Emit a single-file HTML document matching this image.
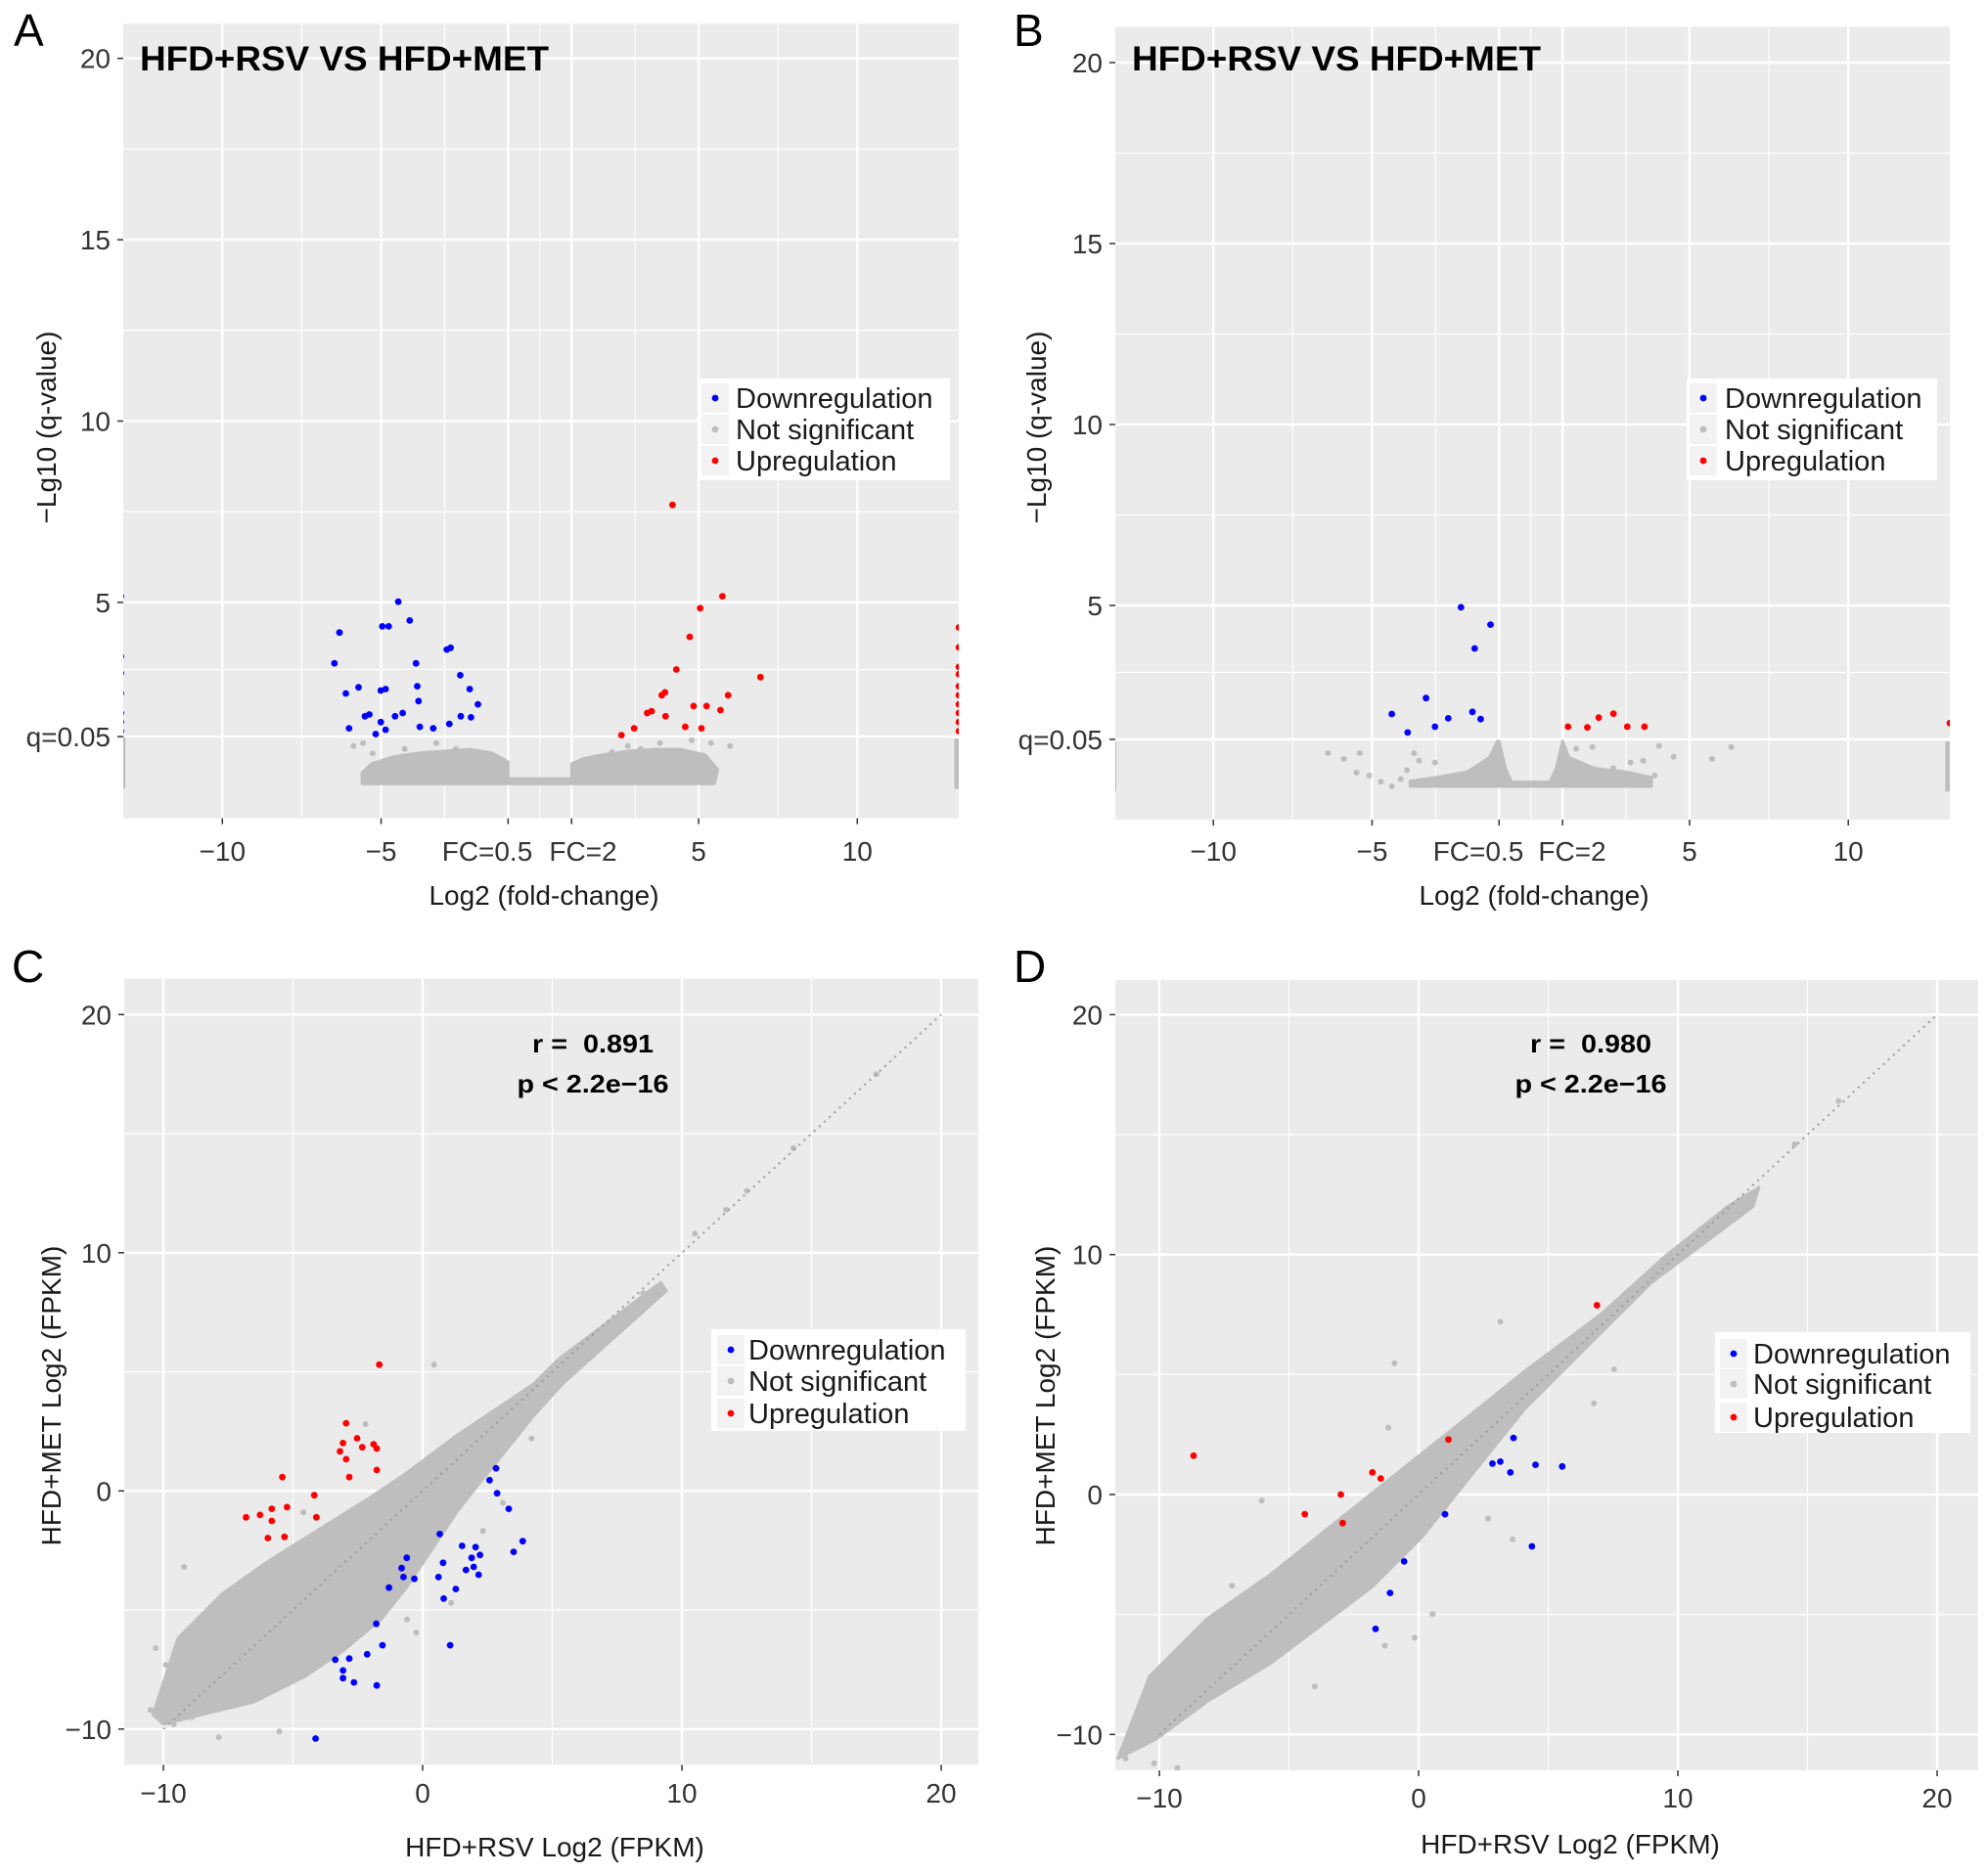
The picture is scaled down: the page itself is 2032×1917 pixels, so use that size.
<!DOCTYPE html>
<html><head><meta charset="utf-8">
<style>
html,body{margin:0;padding:0;background:#fff;}
svg{display:block;font-family:"Liberation Sans",Arial,sans-serif;}
</style></head>
<body>
<svg id="fig" width="2032" height="1917" viewBox="0 0 2032 1917" xmlns="http://www.w3.org/2000/svg">
<defs>
<clipPath id="clipA"><rect x="126" y="24" width="854" height="813"/></clipPath>
<clipPath id="clipB"><rect x="1140" y="27" width="853" height="811"/></clipPath>
<clipPath id="clipC"><rect x="127" y="1001" width="873" height="804"/></clipPath>
<clipPath id="clipD"><rect x="1140" y="1002" width="882" height="808"/></clipPath>
</defs>
</svg>
<script>
// ---------- Panel A data (volcano) ----------
const A_down_x = [-6.47,-6.31,-6.11,-5.71,-6.01,-5.51,-5.37,-5.01,-4.86,-5.01,-4.96,-4.76,-4.56,-4.46,-4.32,-4.10,-3.90,-3.86,-3.82,-3.78,-3.36,-2.93,-2.81,-2.85,-2.51,-2.49,-2.21,-2.17,-1.95,-4.86,-5.17,-13.2,-13.2,-13.2,-13.2,-13.2,-13.2,-13.2];
const A_down_y = [3.32,4.17,2.49,2.66,1.53,1.86,1.91,2.57,2.61,1.70,4.34,4.34,1.86,5.02,1.95,4.50,3.32,2.69,2.28,1.57,1.53,3.70,3.75,1.65,2.99,1.86,2.61,1.83,2.19,1.49,1.37,5.17,3.51,3.05,2.49,1.95,1.70,1.45];
const A_up_x = [4.18,5.75,5.05,4.72,4.30,6.95,5.93,3.84,3.94,3.38,3.52,3.96,4.84,5.25,5.69,4.58,5.09,2.97,2.57,13.2,13.2,13.2,13.2,13.2,13.2,13.2,13.2,13.2,13.2];
const A_up_y = [7.69,5.17,4.84,4.05,3.15,2.94,2.44,2.44,2.52,1.95,2.00,1.86,2.14,2.14,2.03,1.57,1.53,1.53,1.34,4.31,3.76,3.22,3.02,2.69,2.44,2.19,1.95,1.70,1.45];
const A_ns_x = [-5.87,-5.57,-5.27,-5.07,-4.66,-4.26,-3.86,-3.26,-2.65,-2.25,-1.85,1.87,2.27,2.77,3.18,3.78,4.38,4.78,5.39,5.99,5.49,4.98,-5.3,-4.9,-4.5,5.2];
const A_ns_y = [1.04,1.12,0.84,0.21,0.54,0.96,0.71,1.12,0.96,0.87,0.54,0.71,0.87,1.04,0.96,1.12,0.84,1.20,1.12,1.04,0.38,0.13,0.5,0.35,0.2,0.6];
const A_cloud_left_x = [-5.6,-1,-1,-1.5,-2.2,-3,-3.8,-4.6,-5.3,-5.6];
const A_cloud_left_y = [0,0,0.6,0.85,0.95,0.9,0.85,0.75,0.55,0.3];
const A_cloud_right_x = [1,5.5,5.6,5.2,4.4,3.6,2.8,2,1.4,1];
const A_cloud_right_y = [0,0,0.4,0.8,0.95,0.95,0.9,0.8,0.7,0.55];
const A_cloud_mid_x = [-1,1,1,-1];
const A_cloud_mid_y = [0,0,0.14,0.14];
const A_edge_x = [-13.4,-13.1,-13.1,-13.4];
const A_edge_y = [-0.1,-0.1,1.25,1.25];
const A_edge2_x = [13.1,13.4,13.4,13.1];
const A_edge2_y = [-0.1,-0.1,1.2,1.2];

// ---------- Panel B data (volcano) ----------
const B_down_x = [-2.20,-1.27,-1.77,-3.30,-4.38,-3.88,-3.02,-2.60,-1.84,-1.58,-13.2,-13.2,-13.2];
const B_down_y = [4.95,4.47,3.81,2.44,2.00,1.49,1.65,1.88,2.06,1.86,2.44,1.58,1.42];
const B_up_x = [1.17,1.78,2.14,2.60,3.04,3.58,13.2];
const B_up_y = [1.65,1.63,1.90,2.01,1.65,1.65,1.75];
const B_ns_x = [-6.39,-5.89,-5.39,-5.49,-5.09,-4.72,-4.38,-3.68,-3.52,-3.02,4.04,4.50,5.71,6.31,3.54,3.14,1.94,1.43,-4.1,-3.9,3.9,2.6];
const B_ns_y = [0.92,0.76,0.92,0.38,0.30,0.13,0.0,0.92,0.71,0.66,1.12,0.82,0.76,1.09,0.71,0.66,1.09,1.04,0.2,0.45,0.3,0.5];
const B_cloud_left_x = [-3.8,-1.05,-1.05,-1.3,-2,-3,-3.8];
const B_cloud_left_y = [0,0,1.25,0.8,0.4,0.25,0.15];
const B_cloud_mid_x = [-1,1,1,0.8,0.6,-0.6,-0.8,-1];
const B_cloud_mid_y = [0,0,1.25,0.5,0.12,0.12,0.5,1.25];
const B_cloud_right_x = [1,3.8,3.8,3,2,1.2,1];
const B_cloud_right_y = [0,0,0.25,0.4,0.5,0.8,1.25];
const B_edge_x = [-13.4,-13.1,-13.1,-13.4];
const B_edge_y = [-0.1,-0.1,1.2,1.2];
const B_edge2_x = [13.1,13.4,13.4,13.1];
const B_edge2_y = [-0.1,-0.1,1.2,1.2];

// ---------- Panel C data (scatter) ----------
const C_up_x = [-1.67,-2.95,-3.07,-2.53,-2.33,-1.89,-1.77,-3.19,-2.95,-2.83,-1.77,-5.41,-4.18,-5.82,-5.23,-6.81,-6.27,-5.82,-4.10,-5.97,-5.33];
const C_up_y = [5.30,2.84,2.01,2.21,1.83,1.96,1.78,1.66,1.33,0.58,0.88,0.58,-0.18,-0.75,-0.68,-1.11,-1.01,-1.26,-1.11,-1.98,-1.93];
const C_down_x = [2.83,2.58,2.87,3.32,3.86,3.51,0.66,1.52,2.04,2.21,1.89,0.79,0.61,1.67,1.97,2.16,-0.61,-0.81,-0.74,-0.32,-1.30,0.81,1.28,-1.79,-1.55,1.06,-3.37,-2.83,-3.07,-3.07,-2.65,-2.14,-1.77,-4.13];
const C_down_y = [0.95,0.45,-0.10,-0.75,-2.11,-2.56,-1.81,-2.31,-2.36,-2.69,-2.81,-3.02,-3.62,-3.32,-3.19,-3.52,-2.81,-3.24,-3.62,-3.69,-4.06,-4.52,-4.12,-5.58,-6.48,-6.48,-7.09,-7.04,-7.54,-7.86,-8.04,-6.86,-8.17,-10.4];
const C_ns_x = [0.44,-0.25,2.33,-5.53,-7.86,-9.2,-10.3,-10.5,-9.6,10.5,11.7,12.5,14.3,17.5,8.5,7.3,-0.6,1.1,4.2,-8.9,-9.9,-4.6,-2.2,3.1];
const C_ns_y = [5.30,-5.95,-1.68,-10.1,-10.35,-3.19,-6.6,-9.2,-9.8,10.8,11.8,12.6,14.4,17.5,8.3,6.6,-5.4,-4.7,2.2,-9.5,-7.3,-0.9,2.8,-0.5];
const C_cloud_x = [-10.4,-9.44,-7.73,-6.01,-4.05,-2.09,-0.62,1.34,2.81,4.28,5.26,9.18,9.4,5.4,4.28,3.30,2.32,1.34,0.36,-0.62,-1.60,-3.07,-4.54,-6.50,-8.46,-10.0];
const C_cloud_y = [-9.4,-6.19,-4.32,-2.99,-1.65,-0.32,0.75,2.35,3.42,4.49,5.55,8.75,8.4,4.5,3.15,1.82,0.5,-0.85,-2.45,-4.05,-5.39,-6.72,-7.79,-8.86,-9.38,-9.8];

// ---------- Panel D data (scatter) ----------
const D_up_x = [-8.68,6.88,1.15,-1.78,-1.46,-3.0,-4.39,-2.93];
const D_up_y = [1.62,7.89,2.29,0.92,0.67,0,-0.82,-1.19];
const D_down_x = [3.66,2.85,3.15,3.54,4.51,5.54,1.02,4.37,-0.56,-1.10,-1.66];
const D_down_y = [2.36,1.29,1.37,0.92,1.24,1.17,-0.82,-2.16,-2.79,-4.10,-5.60];
const D_ns_x = [3.15,-0.93,-1.17,-6.05,2.68,3.63,0.54,-0.15,7.54,6.76,14.5,16.2,-11.3,-10.9,-10.2,-9.3,-4.0,-1.3,-7.2];
const D_ns_y = [7.2,5.47,2.79,-0.25,-1.0,-1.87,-4.98,-5.97,5.22,3.8,14.6,16.4,-11.0,-10.4,-11.2,-11.4,-8.0,-6.3,-3.8];
const D_cloud_x = [-11.6,-10.38,-8.17,-5.72,-3.27,-0.82,1.63,4.08,7.02,9.47,11.92,13.13,12.9,8.98,6.53,4.08,2.11,0.15,-1.81,-3.77,-5.72,-8.17,-10.13];
const D_cloud_y = [-11.0,-7.58,-5.19,-3.34,-1.22,0.9,3.0,5.13,7.5,9.9,12.0,12.8,12.0,8.83,6.2,3.55,0.9,-1.75,-3.87,-5.46,-7.05,-8.64,-10.2];

// tick label arrays
const volcX_ticks = [-10,-5,5,10];
const volcX_labels = ["\u221210","\u22125","5","10"];
const volcFC_vals = [-1,1];
const volcY_ticks = [1.3,5,10,15,20];
const volcY_labels = ["q=0.05","5","10","15","20"];
const scat_ticks = [-10,0,10,20];
const scat_labels = ["\u221210","0","10","20"];
const legend_labels = ["Downregulation","Not significant","Upregulation"];

const NS = "http://www.w3.org/2000/svg";
const svg = document.getElementById("fig");
function el(tag, attrs, parent){
  const e = document.createElementNS(NS, tag);
  for (const k in attrs) e.setAttribute(k, attrs[k]);
  (parent||svg).appendChild(e);
  return e;
}
function mkScale(d0, p0, d1, p1){ return v => p0 + (v - d0) * (p1 - p0) / (d1 - d0); }

function grid(g, P, xs, ys, w){
  xs.forEach(v=>{ const l=el("line",{x1:P.sx(v),x2:P.sx(v),y1:P.top,y2:P.bot,stroke:"#fff","stroke-width":w},g);
    
     });
  ys.forEach(v=>{ const l=el("line",{x1:P.left,x2:P.right,y1:P.sy(v),y2:P.sy(v),stroke:"#fff","stroke-width":w},g);
    
     });
}
function poly(g, P, xs, ys, name){
  const pts = xs.map((x,i)=>P.sx(x).toFixed(1)+","+P.sy(ys[i]).toFixed(1)).join(" ");
  const p = el("polygon",{points:pts,fill:"#bebebe",stroke:"#bebebe","stroke-width":3,"stroke-linejoin":"round"},g);
  
  
}
function pts(g, P, xs, ys, color, r, name){
  xs.forEach((x,i)=>{
    const c = el("circle",{cx:P.sx(x).toFixed(1),cy:P.sy(ys[i]).toFixed(1),r:r,fill:color},g);
    
    
  });
}
function text(str, attrs, name){
  const t = el("text", attrs);
  t.textContent = str;
  
  
  return t;
}
function legend(x0,y0,x1,y1,dotx,textx,rows){
  const g = el("g",{});
  
  
  el("rect",{x:x0,y:y0,width:x1-x0,height:y1-y0,fill:"#fff"},g);
  const cols=["#0000ff","#bebebe","#ff0000"];
  rows.forEach((cy,i)=>{
    el("rect",{x:dotx-14,y:cy-15,width:28,height:30,fill:"#f2f2f2"},g);
    const c = el("circle",{cx:dotx,cy:cy,r:3.4,fill:cols[i]},g);
    
    
    const t = el("text",{x:textx,y:cy+10,"font-size":29,fill:"#1a1a1a"},g);
    t.textContent = legend_labels[i];
    
    
  });
}
function panelBg(P, clip, name){
  const bg = el("rect",{x:P.left,y:P.top,width:P.right-P.left,height:P.bot-P.top,fill:"#ebebeb"});
  
  
  const g = el("g",{"clip-path":"url(#"+clip+")"});
  return g;
}
function yTicks(P, vals, labels){
  vals.forEach((v,i)=>{
    el("line",{x1:P.left-6,x2:P.left,y1:P.sy(v),y2:P.sy(v),stroke:"#333","stroke-width":1.5});
    text(labels[i],{x:P.left-13,y:P.sy(v)+10,"font-size":28,"text-anchor":"end",fill:"#333"},'y-tick-label');
  });
}
function xTicks(P, vals, labels, ly){
  vals.forEach((v,i)=>{
    el("line",{x1:P.sx(v),x2:P.sx(v),y1:P.bot,y2:P.bot+6,stroke:"#333","stroke-width":1.5});
    text(labels[i],{x:P.sx(v),y:ly,"font-size":28,"text-anchor":"middle",fill:"#333"},'x-tick-label');
  });
}

function volcano(P, clip, D, letter, lx, leg, fcPos){
  const g = panelBg(P, clip, 'plot-panel');
  grid(g,P,[-7.5,-3,0,3,7.5],[3.15,7.5,12.5,17.5],1.1);
  grid(g,P,[-10,-5,-1,1,5,10],[1.3,5,10,15,20],2.4);
  D.clouds.forEach(c=>poly(g,P,c[0],c[1],'ns-density'));
  pts(g,P,D.nsx,D.nsy,"#bebebe",3,'ns-point');
  pts(g,P,D.dx,D.dy,"#0000ff",3.4,'down-point');
  pts(g,P,D.ux,D.uy,"#ff0000",3.4,'up-point');
  yTicks(P, volcY_ticks, volcY_labels);
  xTicks(P, volcX_ticks, volcX_labels, 880);
  volcFC_vals.forEach(v=>el("line",{x1:P.sx(v),x2:P.sx(v),y1:P.bot,y2:P.bot+6,stroke:"#333","stroke-width":1.5}));
  text("FC=0.5",{x:fcPos[0],y:880,"font-size":28,"text-anchor":"middle",fill:"#333"},'x-tick-label');
  text("FC=2",{x:fcPos[1],y:880,"font-size":28,"text-anchor":"middle",fill:"#333"},'x-tick-label');
  text("HFD+RSV VS HFD+MET",{x:P.left+17,y:72,"font-size":35,"font-weight":"bold",fill:"#000",textLength:418,lengthAdjust:"spacingAndGlyphs"},'chart-title');
  text("Log2 (fold-change)",{x:lx,y:925,"font-size":28,"text-anchor":"middle",fill:"#1a1a1a"},'x-axis-title');
  text("\u2212Lg10 (q-value)",{x:0,y:0,"font-size":28,"text-anchor":"middle",fill:"#1a1a1a",transform:"translate("+(P.ytx)+",437) rotate(-90)"},'y-axis-title');
  text(letter,{x:P.letterX,y:47,"font-size":46,fill:"#000"},'panel-label');
  legend(leg[0],387,leg[1],491,leg[2],leg[3],[407,439,471]);
}

function scatter(P, clip, D, letter, statX, leg, rows, xt, yt){
  const g = panelBg(P, clip, 'plot-panel');
  grid(g,P,[-5,5,15],[-5,5,15],1.1);
  grid(g,P,[-10,0,10,20],[-10,0,10,20],2.4);
  D.clouds.forEach(c=>poly(g,P,c[0],c[1],'ns-density'));
  pts(g,P,D.nsx,D.nsy,"#bebebe",3,'ns-point');
  const dl = el("line",{x1:P.sx(-10),y1:P.sy(-10),x2:P.sx(20),y2:P.sy(20),stroke:"#9a9a9a","stroke-width":2,"stroke-dasharray":"2 5"},g);
  
  
  pts(g,P,D.ux,D.uy,"#ff0000",3.4,'up-point');
  pts(g,P,D.dx,D.dy,"#0000ff",3.4,'down-point');
  yTicks(P, scat_ticks, scat_labels);
  xTicks(P, scat_ticks, scat_labels, P.xlabY);
  text(D.r,{x:statX,y:1076,"font-size":26,"font-weight":"bold","text-anchor":"middle",fill:"#000",style:"white-space:pre",textLength:124,lengthAdjust:"spacingAndGlyphs"},'correlation-r');
  text("p < 2.2e\u221216",{x:statX,y:1117,"font-size":26,"font-weight":"bold","text-anchor":"middle",fill:"#000",textLength:155,lengthAdjust:"spacingAndGlyphs"},'p-value');
  text("HFD+RSV Log2 (FPKM)",{x:xt[0],y:xt[1],"font-size":28,"text-anchor":"middle",fill:"#1a1a1a"},'x-axis-title');
  text("HFD+MET Log2 (FPKM)",{x:0,y:0,"font-size":28,"text-anchor":"middle",fill:"#1a1a1a",transform:"translate("+yt[0]+","+yt[1]+") rotate(-90)"},'y-axis-title');
  text(letter,{x:P.letterX,y:1004,"font-size":46,fill:"#000"},'panel-label');
  legend(leg[0],leg[1],leg[2],leg[3],leg[4],leg[5],rows);
}

// Panel A
const PA = {left:126,right:980,top:24.4,bot:836.6, sx:mkScale(0,551.8,10,876.3), sy:mkScale(0,801.3,5,615.9), ytx:57, letterX:14};
volcano(PA,"clipA",{clouds:[[A_cloud_left_x,A_cloud_left_y],[A_cloud_right_x,A_cloud_right_y],[A_cloud_mid_x,A_cloud_mid_y],[A_edge_x,A_edge_y],[A_edge2_x,A_edge2_y]],
  nsx:A_ns_x,nsy:A_ns_y,dx:A_down_x,dy:A_down_y,ux:A_up_x,uy:A_up_y},"A",556,[713,971,731,752],[498,596]);
// Panel B
const PB = {left:1140,right:1993,top:27.4,bot:838, sx:mkScale(0,1564.7,10,1889.2), sy:mkScale(0,804,5,619), ytx:1069, letterX:1036};
volcano(PB,"clipB",{clouds:[[B_cloud_left_x,B_cloud_left_y],[B_cloud_mid_x,B_cloud_mid_y],[B_cloud_right_x,B_cloud_right_y],[B_edge_x,B_edge_y],[B_edge2_x,B_edge2_y]],
  nsx:B_ns_x,nsy:B_ns_y,dx:B_down_x,dy:B_down_y,ux:B_up_x,uy:B_up_y},"B",1568,[1724,1980,1741,1763],[1511,1607]);
// Panel C
const PC = {left:127,right:1000,top:1000.7,bot:1804.4, sx:mkScale(0,432,10,697), sy:mkScale(0,1524.3,10,1280.8), xlabY:1843, letterX:12};
scatter(PC,"clipC",{clouds:[[C_cloud_x,C_cloud_y]],nsx:C_ns_x,nsy:C_ns_y,dx:C_down_x,dy:C_down_y,ux:C_up_x,uy:C_up_y,r:"r =  0.891"},
  "C",606,[727,1359,987,1463,747,765],[1380,1412,1445],[567,1898],[62,1427]);
// Panel D
const PD = {left:1140,right:2022,top:1002,bot:1810, sx:mkScale(0,1450,10,1715), sy:mkScale(0,1528,10,1282.7), xlabY:1848, letterX:1036};
scatter(PD,"clipD",{clouds:[[D_cloud_x,D_cloud_y]],nsx:D_ns_x,nsy:D_ns_y,dx:D_down_x,dy:D_down_y,ux:D_up_x,uy:D_up_y,r:"r =  0.980"},
  "D",1626,[1753,1362,2014,1465,1772,1792],[1384,1415,1449],[1605,1895],[1078,1427]);
</script>
</body></html>
